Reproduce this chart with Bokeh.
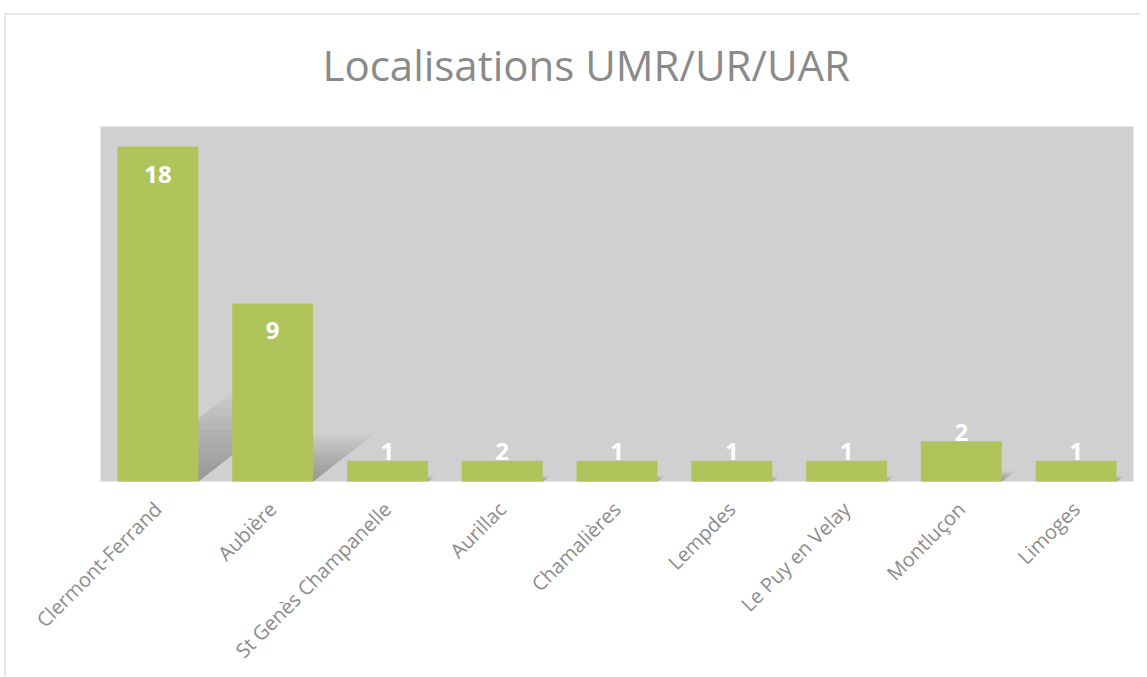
import math
from bokeh.plotting import figure
from bokeh.models import ColumnDataSource, Range1d
from bokeh.core.properties import value
from bokeh.embed import file_html
from bokeh.resources import INLINE

# ---- data ----
title_text = "Localisations UMR/UR/UAR"
cities = ["Clermont-Ferrand", "Aubière", "St Genès Champanelle", "Aurillac",
          "Chamalières", "Lempdes", "Le Puy en Velay", "Montluçon", "Limoges"]
counts = ["18", "9", "1", "2", "1", "1", "1", "2", "1"]          # data labels as printed
bar_heights = [18, 9.57, 1.12, 1.12, 1.12, 1.12, 1.12, 2.16, 1.12]  # bar heights as drawn
y_max = 19.08

W, H = 1140, 676
p = figure(x_range=cities, y_range=Range1d(0, y_max), width=W, height=H,
           output_backend="svg", toolbar_location=None,
           min_border_left=100, min_border_right=7, min_border_top=126,
           min_border_bottom=190)
# light chart-area frame drawn as CSS background behind a transparent canvas border
p.styles = {
    "background-image": "linear-gradient(#e6e6e6,#e6e6e6), linear-gradient(#e6e6e6,#e6e6e6)",
    "background-repeat": "no-repeat",
    "background-position": "4px 13px, 4px 13px",
    "background-size": "100% 2px, 2px 100%",
}
p.background_fill_color = "#d0d0d0"
p.border_fill_alpha = 0
p.outline_line_color = None
p.grid.visible = False
p.yaxis.visible = False

p.title.text = title_text
p.title.align = "left"
p.title.offset = 222
p.title.vertical_align = "top"
p.title.standoff = 64
p.title.text_font = "Open Sans"
p.title.text_font_style = "normal"
p.title.text_font_size = "42px"
p.title.text_color = "#8a8a8a"

bw = 0.705
# soft perspective shadows derived from the bars
layers = [(0.022 * k, 0.04) for k in range(1, 13)]
for frac, alpha in layers:
    xs, ys = [], []
    for i, h in enumerate(bar_heights):
        xl = i + 0.5 - bw / 2
        xr = i + 0.5 + bw / 2
        sh = 0.052 * h * (frac / 0.25)
        xs.append([xl, xr, xr + sh, xl + sh])
        ys.append([0, 0, frac * h, frac * h])
    p.patches(xs, ys, fill_color="#505050", fill_alpha=alpha, line_color=None)

src = ColumnDataSource(dict(city=cities, h=bar_heights, lab=counts))
p.vbar(x="city", top="h", width=bw, source=src, fill_color="#afc55b", line_color=None)

big = [i for i, h in enumerate(bar_heights) if h > 5]
small = [i for i, h in enumerate(bar_heights) if h <= 5]
src_big = ColumnDataSource(dict(city=[cities[i] for i in big], h=[bar_heights[i] for i in big],
                                lab=[counts[i] for i in big]))
src_small = ColumnDataSource(dict(city=[cities[i] for i in small], h=[bar_heights[i] for i in small],
                                  lab=[counts[i] for i in small]))
p.text(x="city", y="h", text="lab", source=src_big, text_align="center",
       text_baseline="top", y_offset=19, text_color="white",
       text_font=value("Open Sans"), text_font_style="bold", text_font_size="24px")
p.text(x="city", y="h", text="lab", source=src_small, text_align="center",
       text_baseline="alphabetic", y_offset=-9, text_color="white",
       text_font=value("Open Sans"), text_font_style="bold", text_font_size="24px")

ax = p.xaxis[0]
ax.axis_line_color = None
ax.major_tick_line_color = None
ax.minor_tick_line_color = None
ax.major_label_orientation = math.pi / 4
ax.major_label_text_font = "Open Sans"
ax.major_label_text_font_size = "20px"
ax.major_label_text_color = "#8c8c8c"
ax.major_label_standoff = 18

open("out.html", "w").write(file_html(p, INLINE))
